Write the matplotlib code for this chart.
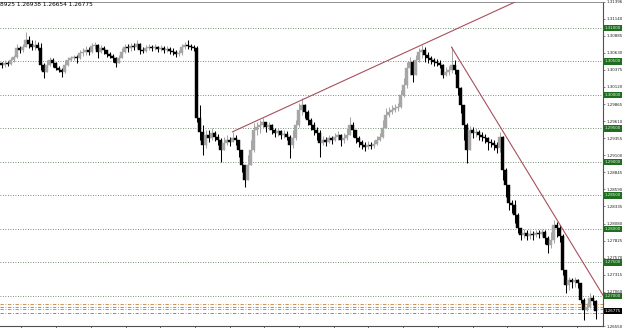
import numpy as np
import matplotlib
matplotlib.use("Agg")
import matplotlib.pyplot as plt
import matplotlib.transforms as mtransforms

# ---------------- data ----------------
close = [1.30445, 1.30475, 1.30460, 1.30520, 1.30565, 1.30700, 1.30670, 1.30715, 1.30820, 1.30760,
         1.30715, 1.30745, 1.30700, 1.30445, 1.30350, 1.30445, 1.30520, 1.30475, 1.30400, 1.30370,
         1.30350, 1.30445, 1.30520, 1.30550, 1.30565, 1.30550, 1.30625, 1.30640, 1.30670, 1.30640,
         1.30730, 1.30745, 1.30640, 1.30700, 1.30670, 1.30610, 1.30580, 1.30550, 1.30475, 1.30550,
         1.30640, 1.30715, 1.30700, 1.30730, 1.30715, 1.30760, 1.30670, 1.30655, 1.30700, 1.30715,
         1.30700, 1.30715, 1.30685, 1.30700, 1.30670, 1.30685, 1.30655, 1.30640, 1.30610, 1.30625,
         1.30715, 1.30745, 1.30730, 1.30715, 1.30700, 1.29660, 1.29450, 1.29255, 1.29405, 1.29360,
         1.29435, 1.29375, 1.29330, 1.29180, 1.29285, 1.29330, 1.29300, 1.29360, 1.29330, 1.29180,
         1.28955, 1.28730, 1.28955, 1.29180, 1.29480, 1.29525, 1.29555, 1.29600, 1.29525, 1.29555,
         1.29480, 1.29435, 1.29465, 1.29405, 1.29420, 1.29375, 1.29255, 1.29360, 1.29555, 1.29780,
         1.29855, 1.29750, 1.29630, 1.29555, 1.29480, 1.29435, 1.29285, 1.29330, 1.29300, 1.29360,
         1.29330, 1.29375, 1.29405, 1.29330, 1.29360, 1.29405, 1.29555, 1.29480, 1.29360, 1.29300,
         1.29255, 1.29225, 1.29255, 1.29240, 1.29270, 1.29330, 1.29375, 1.29510, 1.29705, 1.29750,
         1.29780, 1.29810, 1.29825, 1.30005, 1.30155, 1.30400, 1.30490, 1.30305, 1.30520, 1.30640,
         1.30670, 1.30595, 1.30550, 1.30520, 1.30490, 1.30475, 1.30445, 1.30305, 1.30350, 1.30370,
         1.30445, 1.30370, 1.30110, 1.29855, 1.29555, 1.29180, 1.29480, 1.29435, 1.29450, 1.29405,
         1.29375, 1.29360, 1.29300, 1.29285, 1.29255, 1.29210, 1.29375, 1.28880, 1.28655, 1.28385,
         1.28355, 1.28215, 1.28020, 1.27915, 1.27945, 1.27900, 1.27930, 1.27915, 1.27945, 1.27930,
         1.27960, 1.27870, 1.27765, 1.27840, 1.28065, 1.28020, 1.27900, 1.27390, 1.27165, 1.27240,
         1.27210, 1.27240, 1.27195, 1.26940, 1.26790, 1.26835, 1.26970, 1.26925, 1.26775]

open_ = [1.30475, 1.30445, 1.30475, 1.30460, 1.30520, 1.30565, 1.30700, 1.30670, 1.30715, 1.30820,
         1.30760, 1.30715, 1.30745, 1.30700, 1.30445, 1.30350, 1.30445, 1.30520, 1.30475, 1.30400,
         1.30370, 1.30350, 1.30445, 1.30520, 1.30550, 1.30565, 1.30550, 1.30625, 1.30640, 1.30670,
         1.30640, 1.30730, 1.30745, 1.30640, 1.30700, 1.30670, 1.30610, 1.30580, 1.30550, 1.30475,
         1.30550, 1.30640, 1.30715, 1.30700, 1.30730, 1.30715, 1.30760, 1.30670, 1.30655, 1.30700,
         1.30715, 1.30700, 1.30715, 1.30685, 1.30700, 1.30670, 1.30685, 1.30655, 1.30640, 1.30610,
         1.30625, 1.30715, 1.30745, 1.30730, 1.30715, 1.30700, 1.29660, 1.29450, 1.29255, 1.29405,
         1.29360, 1.29435, 1.29375, 1.29330, 1.29180, 1.29285, 1.29330, 1.29300, 1.29360, 1.29330,
         1.29180, 1.28955, 1.28730, 1.28955, 1.29180, 1.29480, 1.29525, 1.29555, 1.29600, 1.29525,
         1.29555, 1.29480, 1.29435, 1.29465, 1.29405, 1.29420, 1.29375, 1.29255, 1.29360, 1.29555,
         1.29780, 1.29855, 1.29750, 1.29630, 1.29555, 1.29480, 1.29435, 1.29285, 1.29330, 1.29300,
         1.29360, 1.29330, 1.29375, 1.29405, 1.29330, 1.29360, 1.29405, 1.29555, 1.29480, 1.29360,
         1.29300, 1.29255, 1.29225, 1.29255, 1.29240, 1.29270, 1.29330, 1.29375, 1.29510, 1.29705,
         1.29750, 1.29780, 1.29810, 1.29825, 1.30005, 1.30155, 1.30400, 1.30490, 1.30305, 1.30520,
         1.30640, 1.30670, 1.30595, 1.30550, 1.30520, 1.30490, 1.30475, 1.30445, 1.30305, 1.30350,
         1.30370, 1.30445, 1.30370, 1.30110, 1.29855, 1.29555, 1.29180, 1.29480, 1.29435, 1.29450,
         1.29405, 1.29375, 1.29360, 1.29300, 1.29285, 1.29255, 1.29210, 1.29375, 1.28880, 1.28655,
         1.28385, 1.28355, 1.28215, 1.28020, 1.27915, 1.27945, 1.27900, 1.27930, 1.27915, 1.27945,
         1.27930, 1.27960, 1.27870, 1.27765, 1.27840, 1.28065, 1.28020, 1.27900, 1.27390, 1.27165,
         1.27240, 1.27210, 1.27240, 1.27195, 1.26940, 1.26790, 1.26835, 1.26970, 1.26925]

high = [1.30490, 1.30520, 1.30505, 1.30565, 1.30595, 1.30760, 1.30730, 1.30760, 1.30940, 1.30880,
        1.30820, 1.30820, 1.30790, 1.30775, 1.30475, 1.30520, 1.30565, 1.30550, 1.30490, 1.30430,
        1.30400, 1.30520, 1.30565, 1.30580, 1.30595, 1.30595, 1.30670, 1.30700, 1.30730, 1.30715,
        1.30775, 1.30790, 1.30760, 1.30745, 1.30730, 1.30670, 1.30640, 1.30610, 1.30565, 1.30595,
        1.30700, 1.30760, 1.30760, 1.30775, 1.30775, 1.30820, 1.30775, 1.30715, 1.30745, 1.30760,
        1.30745, 1.30760, 1.30730, 1.30745, 1.30730, 1.30730, 1.30715, 1.30700, 1.30670, 1.30670,
        1.30760, 1.30790, 1.30820, 1.30760, 1.30745, 1.30730, 1.29855, 1.29555, 1.29480, 1.29480,
        1.29510, 1.29465, 1.29420, 1.29360, 1.29375, 1.29405, 1.29375, 1.29450, 1.29405, 1.29330,
        1.29180, 1.28955, 1.29105, 1.29330, 1.29585, 1.29600, 1.29630, 1.29660, 1.29600, 1.29600,
        1.29570, 1.29510, 1.29510, 1.29480, 1.29480, 1.29465, 1.29405, 1.29480, 1.29630, 1.29885,
        1.29960, 1.29870, 1.29780, 1.29660, 1.29600, 1.29525, 1.29480, 1.29390, 1.29375, 1.29405,
        1.29390, 1.29435, 1.29465, 1.29420, 1.29435, 1.29510, 1.29675, 1.29600, 1.29480, 1.29390,
        1.29330, 1.29300, 1.29315, 1.29300, 1.29330, 1.29390, 1.29435, 1.29630, 1.29810, 1.29825,
        1.29855, 1.29870, 1.29885, 1.30080, 1.30260, 1.30490, 1.30565, 1.30520, 1.30595, 1.30700,
        1.30745, 1.30715, 1.30640, 1.30580, 1.30550, 1.30535, 1.30520, 1.30460, 1.30415, 1.30430,
        1.30715, 1.30520, 1.30370, 1.30125, 1.29780, 1.29585, 1.29540, 1.29525, 1.29510, 1.29480,
        1.29450, 1.29420, 1.29375, 1.29345, 1.29330, 1.29300, 1.29450, 1.29390, 1.28910, 1.28655,
        1.28430, 1.28430, 1.28235, 1.28020, 1.28005, 1.27990, 1.27990, 1.27975, 1.27990, 1.27990,
        1.28005, 1.27990, 1.27900, 1.27960, 1.28140, 1.28110, 1.28065, 1.27930, 1.27390, 1.27285,
        1.27270, 1.27285, 1.27255, 1.27165, 1.26970, 1.26895, 1.27045, 1.27015, 1.26938]

low = [1.30400, 1.30415, 1.30430, 1.30445, 1.30490, 1.30550, 1.30625, 1.30640, 1.30715, 1.30700,
       1.30670, 1.30670, 1.30670, 1.30370, 1.30260, 1.30370, 1.30430, 1.30415, 1.30370, 1.30350,
       1.30275, 1.30335, 1.30430, 1.30505, 1.30520, 1.30475, 1.30535, 1.30580, 1.30595, 1.30595,
       1.30625, 1.30685, 1.30550, 1.30625, 1.30610, 1.30565, 1.30550, 1.30490, 1.30415, 1.30475,
       1.30550, 1.30625, 1.30640, 1.30655, 1.30670, 1.30685, 1.30610, 1.30625, 1.30640, 1.30670,
       1.30655, 1.30670, 1.30640, 1.30655, 1.30625, 1.30640, 1.30610, 1.30595, 1.30565, 1.30580,
       1.30595, 1.30685, 1.30685, 1.30670, 1.30655, 1.29600, 1.29330, 1.29105, 1.29210, 1.29300,
       1.29330, 1.29315, 1.29255, 1.29000, 1.29210, 1.29255, 1.29240, 1.29300, 1.29255, 1.29075,
       1.28850, 1.28625, 1.28760, 1.29030, 1.29150, 1.29405, 1.29435, 1.29510, 1.29450, 1.29480,
       1.29420, 1.29375, 1.29390, 1.29345, 1.29360, 1.29330, 1.29060, 1.29210, 1.29330, 1.29525,
       1.29705, 1.29660, 1.29555, 1.29480, 1.29405, 1.29330, 1.29075, 1.29255, 1.29240, 1.29285,
       1.29270, 1.29315, 1.29330, 1.29240, 1.29285, 1.29330, 1.29405, 1.29375, 1.29285, 1.29225,
       1.29195, 1.29165, 1.29195, 1.29195, 1.29210, 1.29255, 1.29315, 1.29360, 1.29555, 1.29675,
       1.29720, 1.29750, 1.29765, 1.29810, 1.29975, 1.30110, 1.30305, 1.30200, 1.30350, 1.30490,
       1.30550, 1.30490, 1.30475, 1.30460, 1.30430, 1.30430, 1.30400, 1.30260, 1.30290, 1.30305,
       1.30335, 1.30320, 1.30005, 1.29735, 1.29330, 1.28985, 1.29255, 1.29360, 1.29375, 1.29330,
       1.29315, 1.29285, 1.29180, 1.29225, 1.29180, 1.29135, 1.29150, 1.28730, 1.28475, 1.28280,
       1.28235, 1.28095, 1.27945, 1.27840, 1.27870, 1.27840, 1.27855, 1.27840, 1.27885, 1.27870,
       1.27900, 1.27780, 1.27645, 1.27720, 1.27795, 1.27885, 1.27810, 1.27315, 1.27045, 1.27090,
       1.27120, 1.27135, 1.27120, 1.26895, 1.26640, 1.26775, 1.26820, 1.26865, 1.26654]

header_text = "8925 1.26938 1.26654 1.26775"
round_levels = [1.31000, 1.30500, 1.30000, 1.29500, 1.29000, 1.28500, 1.28000, 1.27500, 1.27000]
axis_ticks = [1.31396, 1.31140, 1.30885, 1.30630, 1.30375, 1.30120, 1.29865, 1.29610, 1.29355,
              1.29100, 1.28845, 1.28590, 1.28335, 1.28080, 1.27825, 1.27570, 1.27315, 1.27060, 1.26550]
current_price = 1.26775
dashdot_levels = [1.26881, 1.26836, 1.26806, 1.26746]
dashdot_colors = ['#c8803c', '#7f9a48', '#a08a6a', '#5f8f5f']
trend_up = ([77, 180], [1.29450, 1.31570])       # bar index, price
trend_down = ([150, 200.5], [1.30715, 1.27010])

# ---------------- figure ----------------
W, H = 625, 328
fig = plt.figure(figsize=(W / 100, H / 100), dpi=100)
ax = fig.add_axes([0, 2 / H, 603 / W, (326 - 1.5) / H])
ax.set_xlim(-0.5, 200.5)
ax.set_ylim(1.26550, 1.31396)

o = np.array(open_); c = np.array(close); h = np.array(high); l = np.array(low)
idx = np.arange(len(c))
top = np.maximum(np.maximum(h, o), c)
bot = np.minimum(np.minimum(l, o), c)
up = c >= o
col_up, col_dn = '#a6a6a6', '#000000'
colors = np.where(up, col_up, col_dn)

# grid levels
for lv in round_levels:
    ax.axhline(lv, color='#4d6b4d', lw=0.6, ls=(0, (1, 2)), zorder=1)
for lv, cc in zip(dashdot_levels, dashdot_colors):
    ax.axhline(lv, color=cc, lw=0.6, ls=(0, (4, 2, 1, 2)), zorder=1)

ax.vlines(idx, bot, top, colors=colors, lw=0.75, zorder=3)
ax.bar(idx, np.abs(c - o), bottom=np.minimum(o, c), width=0.7, color=colors,
       edgecolor=colors, linewidth=0.3, zorder=4)

ax.plot(trend_up[0], trend_up[1], color='#a8505c', lw=0.8, zorder=5)
ax.plot(trend_down[0], trend_down[1], color='#a8505c', lw=0.8, zorder=5)

# axes styling
ax.spines['left'].set_visible(False)
ax.spines['top'].set_color('#808080'); ax.spines['top'].set_linewidth(0.6)
ax.spines['right'].set_color('#505050'); ax.spines['right'].set_linewidth(0.8)
ax.spines['bottom'].set_color('#505050'); ax.spines['bottom'].set_linewidth(0.8)

tick_px = np.arange(576.7, 0, -34.7)
ax.set_xticks((tick_px - 1.5) / 3)
ax.tick_params(axis='x', direction='out', length=3, width=0.6, color='#505050',
               labelbottom=False)

ax.yaxis.tick_right()
ax.set_yticks(axis_ticks)
ax.set_yticklabels([f"{t:.5f}" for t in axis_ticks])
ax.tick_params(axis='y', direction='out', length=1.5, width=0.5, color='#505050',
               labelsize=2.9, pad=1.0, labelcolor='#202020')

trans = mtransforms.blended_transform_factory(ax.transAxes, ax.transData)
for lv in round_levels:
    ax.text(1.003, lv, f"{lv:.5f}", transform=trans, fontsize=2.9, color='#e8f5e8',
            va='center', ha='left', clip_on=False, zorder=10,
            bbox=dict(boxstyle='square,pad=0.3', fc='#1f6e1f', ec='none'))
ax.text(1.003, current_price, f"{current_price:.5f}", transform=trans, fontsize=2.9,
        color='white', va='center', ha='left', clip_on=False, zorder=10,
        bbox=dict(boxstyle='square,pad=0.3', fc='#000000', ec='none'))

fig.text(0.0, 1 - 5 / H, header_text, fontsize=4.2, color='#000000', va='center', ha='left')

fig.savefig("out.png", dpi=100)
